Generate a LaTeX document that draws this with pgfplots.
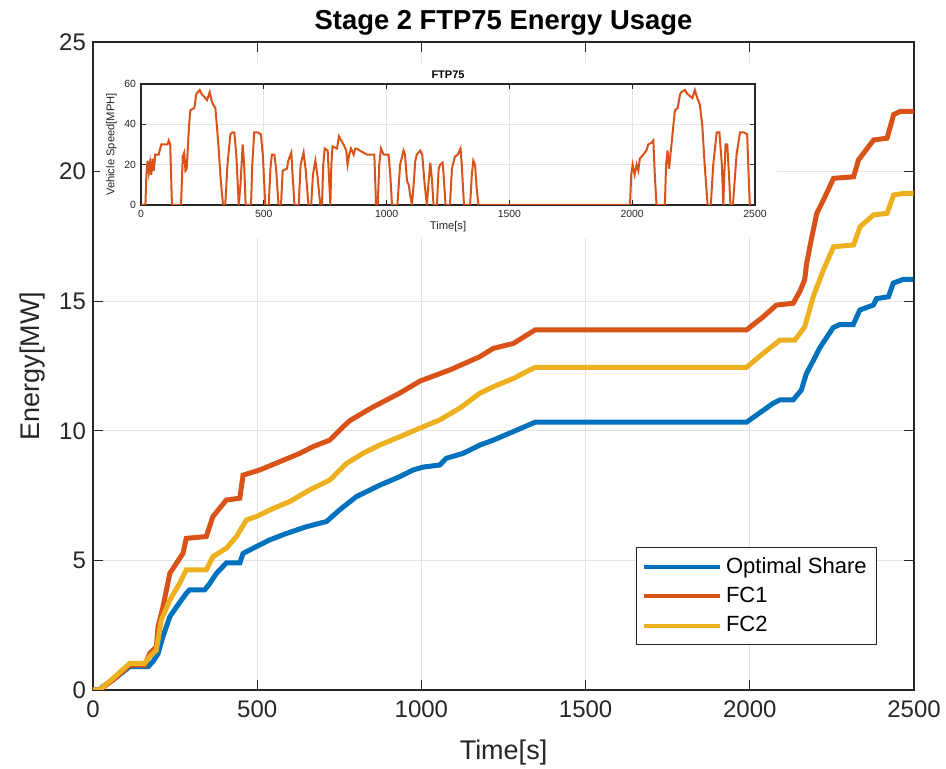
\documentclass[border=0pt]{standalone}
\usepackage{fontspec}
\setmainfont{Liberation Sans}
\usepackage{pgfplots}
\pgfplotsset{compat=1.18}

\definecolor{mblue}{rgb}{0,0.447,0.741}
\definecolor{morange}{rgb}{0.85,0.325,0.098}
\definecolor{myellow}{rgb}{0.929,0.694,0.125}
\definecolor{axgray}{rgb}{0.15,0.15,0.15}

\pgfplotsset{
  mstyle/.style={
    scale only axis,
    axis line style={axgray, line width=0.6pt},
    tick style={axgray, line width=0.6pt},
    tick align=inside,
    grid=major,
    major grid style={gray!22, line width=0.5pt},
    ticklabel style={text=axgray},
    /pgf/number format/assume math mode=true,
    /pgf/number format/1000 sep={},
  }
}

\begin{document}
\begin{tikzpicture}
\begin{axis}[
  mstyle,
  name=main,
  width=410.5pt, height=324pt,
  xmin=0, xmax=2500, ymin=0, ymax=25,
  xtick={0,500,...,2500}, ytick={0,5,...,25},
  major tick length=5pt,
  tick label style={font=\fontsize{12}{14}\selectfont},
  xticklabel style={yshift=-2pt},
  title={\textbf{Stage 2 FTP75 Energy Usage}},
  title style={font=\fontsize{13.7}{16}\selectfont, yshift=-6pt},
  xlabel={Time[s]}, ylabel={Energy[MW]},
  label style={font=\fontsize{13.5}{16}\selectfont, text=axgray},
  xlabel style={yshift=-4pt},
  legend style={at={(0.955,0.069)}, anchor=south east, draw=axgray,
    font=\fontsize{11}{13}\selectfont, row sep=1.5pt,
    inner xsep=3pt, inner ysep=3pt},
  legend cell align=left,
  legend image code/.code={\draw[#1, line width=2pt] (0pt,0pt) -- (38pt,0pt);},
]
\addplot[mblue, line width=2.5pt] coordinates {
(0,0) (20,0) (30,0.13) (61,0.39) (112,0.9) (168,0.9) (183,1.1) (198,1.4) (213,2.06) (234,2.83) (254,3.2) (284,3.73) (294,3.86) (340,3.86) (355,4.1) (376,4.5) (406,4.9) (447,4.9) (457,5.27) (497,5.53) (538,5.79) (589,6.04) (650,6.3) (711,6.5) (751,6.95) (802,7.46) (873,7.9) (934,8.23) (975,8.49) (1005,8.6) (1056,8.68) (1076,8.94) (1127,9.13) (1178,9.45) (1219,9.64) (1280,9.97) (1346,10.33) (1990,10.33) (2020,10.6) (2071,11.06) (2091,11.19) (2132,11.19) (2157,11.57) (2172,12.2) (2193,12.7) (2213,13.2) (2254,13.98) (2274,14.1) (2315,14.1) (2335,14.66) (2376,14.85) (2386,15.1) (2422,15.17) (2437,15.7) (2467,15.84) (2497,15.84)
};
\addlegendentry{Optimal Share}
\addplot[morange, line width=2.5pt] coordinates {
(0,0) (20,0) (61,0.39) (112,0.96) (157,0.96) (173,1.41) (193,1.67) (198,2.44) (213,3.2) (234,4.5) (254,4.89) (274,5.27) (284,5.85) (345,5.92) (365,6.69) (406,7.33) (447,7.4) (457,8.29) (508,8.49) (569,8.81) (630,9.13) (670,9.39) (721,9.64) (762,10.16) (783,10.4) (850,10.9) (935,11.46) (996,11.92) (1087,12.35) (1178,12.86) (1219,13.18) (1280,13.37) (1346,13.89) (1990,13.89) (2041,14.4) (2081,14.85) (2132,14.92) (2152,15.37) (2167,15.82) (2173,16.46) (2189,17.49) (2204,18.39) (2224,18.9) (2255,19.74) (2316,19.8) (2331,20.45) (2377,21.22) (2418,21.29) (2438,22.2) (2458,22.32) (2499,22.32)
};
\addlegendentry{FC1}
\addplot[myellow, line width=2.5pt] coordinates {
(0,0) (20,0) (61,0.45) (112,1.03) (157,1.03) (173,1.29) (193,1.54) (208,2.7) (234,3.47) (264,4.12) (284,4.63) (345,4.63) (365,5.14) (406,5.47) (437,5.92) (467,6.56) (497,6.69) (548,7.0) (599,7.27) (660,7.72) (721,8.1) (772,8.74) (822,9.13) (873,9.45) (934,9.77) (995,10.1) (1056,10.42) (1120,10.9) (1178,11.45) (1219,11.7) (1280,12.02) (1346,12.45) (1990,12.45) (2041,12.99) (2092,13.5) (2137,13.5) (2167,14.0) (2193,15.17) (2224,16.2) (2255,17.1) (2316,17.17) (2336,17.88) (2377,18.33) (2418,18.39) (2438,19.1) (2469,19.16) (2499,19.16)
};
\addlegendentry{FC2}
% white backdrop of the inset figure
\fill[white] (rel axis cs:0.009,0.697) rectangle (rel axis cs:0.833,0.967);
\end{axis}

\begin{axis}[
  mstyle,
  at={(24pt,242.5pt)}, anchor=south west,
  width=307pt, height=60.5pt,
  xmin=0, xmax=2500, ymin=0, ymax=60,
  xtick={0,500,...,2500}, ytick={0,20,40,60},
  major tick length=2.5pt,
  tick label style={font=\fontsize{5.2}{6}\selectfont},
  xticklabel style={yshift=1pt},
  yticklabel style={xshift=1pt},
  title={\textbf{FTP75}},
  title style={font=\fontsize{5.5}{6}\selectfont, yshift=-7pt},
  xlabel={Time[s]}, ylabel={Vehicle Speed[MPH]},
  label style={font=\fontsize{5.6}{6.5}\selectfont, text=axgray},
  xlabel style={yshift=5pt},
  ylabel style={yshift=-3pt},
]
\addplot[morange, line width=1pt] coordinates {
(0,0) (18,0) (22,15) (27,22) (32,16) (37,21) (42,15) (47,23) (52,17) (58,25) (72,25) (78,28) (83,30) (108,30) (113,32) (119,30) (126,0) (163,0) (170,24) (176,26) (181,17) (186,18) (196,40) (201,47) (217,48) (225,55) (239,57) (247,55) (255,54) (269,52) (280,56) (287,52) (293,50) (303,48) (315,30) (325,12) (334,0) (343,0) (352,20) (364,35) (372,36) (380,36) (388,25) (398,0) (405,10) (414,30) (420,20) (426,0) (448,0) (453,20) (461,36) (475,36) (488,35) (496,25) (506,0) (520,0) (527,18) (533,25) (543,25) (550,18) (560,0) (570,0) (577,17) (594,18) (600,22) (612,26) (617,15) (625,0) (642,0) (650,20) (662,26) (670,18) (682,0) (693,0) (700,15) (710,22) (718,15) (730,0) (737,0) (742,20) (748,28) (760,27) (771,0) (775,20) (780,29) (798,28) (806,34) (815,32) (825,30) (836,27) (841,20) (848,25) (855,28) (866,25) (872,28) (879,28) (890,27) (906,26) (920,25) (933,25) (950,25) (957,0) (964,0) (970,20) (977,28) (988,25) (1008,25) (1015,15) (1022,0) (1044,0) (1055,20) (1069,27) (1075,25) (1083,12) (1090,10) (1096,5) (1103,0) (1110,10) (1117,22) (1123,25) (1137,27) (1145,25) (1155,10) (1164,0) (1170,10) (1178,21) (1185,12) (1191,0) (1205,0) (1212,18) (1218,20) (1228,21) (1232,15) (1240,0) (1258,0) (1266,18) (1278,24) (1290,25) (1301,28) (1306,20) (1315,0) (1340,0) (1347,15) (1353,22) (1360,20) (1367,8) (1374,0) (1991,0) (1996,15) (2002,20) (2010,15) (2018,20) (2025,17) (2031,23) (2045,25) (2058,27) (2065,30) (2080,31) (2086,32) (2092,15) (2099,0) (2133,0) (2138,20) (2144,27) (2150,18) (2160,30) (2168,40) (2174,47) (2185,48) (2195,55) (2201,56) (2215,57) (2225,55) (2235,54) (2245,53) (2255,57) (2265,53) (2275,50) (2285,40) (2295,20) (2307,0) (2320,0) (2330,20) (2344,36) (2355,36) (2365,20) (2371,0) (2375,15) (2380,30) (2387,30) (2394,15) (2400,0) (2410,0) (2425,25) (2439,36) (2455,36) (2468,35) (2474,15) (2479,0)
};
\end{axis}
\pgfresetboundingbox
\path (-46.5pt,-39.5pt) rectangle (426.5pt,345pt);
\end{tikzpicture}
\end{document}
